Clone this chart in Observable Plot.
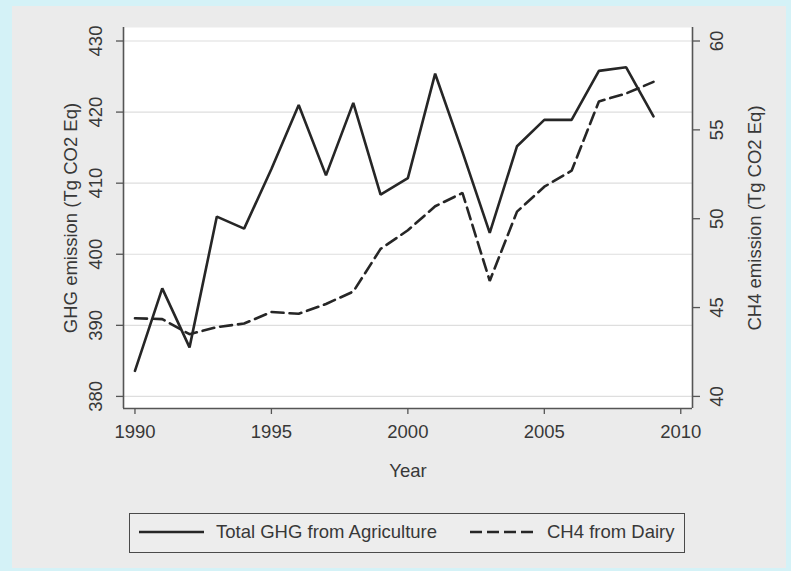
<!DOCTYPE html>
<html>
<head>
<meta charset="utf-8">
<script src="https://cdn.jsdelivr.net/npm/d3@7"></script>
<script src="https://cdn.jsdelivr.net/npm/@observablehq/plot@0.6"></script>
<style>
  html, body { margin: 0; padding: 0; background: #d4f2f7; }
  #wrap { position: relative; width: 791px; height: 571px; background: #d4f2f7; overflow: hidden;
          font-family: "Liberation Sans", Arial, sans-serif; }
  #panel { position: absolute; left: 12px; top: 6px; width: 774px; height: 562px; background: #ebebeb; }
  #chart { position: absolute; left: 0; top: 0; }
  #legend { position: absolute; left: 129px; top: 513px; width: 556px; height: 40px; box-sizing: border-box;
            border: 1.5px solid #4a4a4a; background: #ededed; }
  #legend svg { position: absolute; left: 0; top: 0; }
</style>
</head>
<body>
<div id="wrap">
  <div id="panel"></div>
  <div id="chart"></div>
  <div id="legend"></div>
</div>
<script>
// ---- data ----
const years = [1990,1991,1992,1993,1994,1995,1996,1997,1998,1999,2000,2001,2002,2003,2004,2005,2006,2007,2008,2009];
const ghgTotal = [383.6,395.2,386.9,405.3,403.6,412.0,421.0,411.1,421.3,408.4,410.7,425.4,414.4,403.0,415.2,418.9,418.9,425.8,426.3,419.4];
const ch4Dairy = [44.4,44.35,43.5,43.9,44.1,44.75,44.65,45.2,45.9,48.3,49.35,50.7,51.45,46.5,50.4,51.8,52.7,56.6,57.05,57.7];
const leftTicks = [380,390,400,410,420,430];
const rightTicks = [40,45,50,55,60];
const xTicks = [1990,1995,2000,2005,2010];
const seriesNames = ["Total GHG from Agriculture","CH4 from Dairy"];
const leftTitle = "GHG emission (Tg CO2 Eq)";
const rightTitle = "CH4 emission (Tg CO2 Eq)";
const xTitle = "Year";

// secondary axis: 40..60 maps onto 380..430
const toLeft = c => 380 + (c - 40) * 2.5;
const rows = years.map((yr, i) => ({year: yr, ghg: ghgTotal[i], ch4: ch4Dairy[i]}));

const xDomain = [1989.58, 2010.43];
const yDomain = [378.3, 431.9];
const ink = "#262626";
const txt = "#383838";
const axisCol = "#555555";
const fs = 18.5;

const chart = Plot.plot({
  width: 791,
  height: 500,
  marginLeft: 123,
  marginRight: 99,
  marginTop: 27,
  marginBottom: 92,
  x: {domain: xDomain},
  y: {domain: yDomain},
  style: {background: "transparent", fontFamily: '"Liberation Sans", Arial, sans-serif', fontSize: fs + "px", color: txt},
  marks: [
    Plot.frame({fill: "white", stroke: "none"}),
    Plot.gridY(leftTicks, {stroke: "#dedede", strokeOpacity: 1, strokeWidth: 1.2}),
    // axis lines
    Plot.ruleX([xDomain[0]], {stroke: axisCol, strokeWidth: 1.6}),
    Plot.ruleX([xDomain[1]], {stroke: axisCol, strokeWidth: 1.6}),
    Plot.ruleY([yDomain[0]], {stroke: axisCol, strokeWidth: 1.6}),
    // tick marks
    Plot.axisY(leftTicks, {anchor: "left", tickSize: 7, tickFormat: () => "", label: null, stroke: axisCol, strokeWidth: 1.3}),
    Plot.axisY(rightTicks.map(toLeft), {anchor: "right", tickSize: 7, tickFormat: () => "", label: null, stroke: axisCol, strokeWidth: 1.3}),
    Plot.axisX(xTicks, {anchor: "bottom", tickSize: 6, tickFormat: () => "", label: null, stroke: axisCol, strokeWidth: 1.3}),
    // tick labels
    Plot.text(leftTicks, {y: d => d, frameAnchor: "left", text: d => String(d), rotate: -90, dx: -27,
      textAnchor: "middle", lineAnchor: "middle", fill: txt, fontSize: fs}),
    Plot.text(rightTicks, {y: d => toLeft(d), frameAnchor: "right", text: d => String(d), rotate: -90, dx: 24.5,
      textAnchor: "middle", lineAnchor: "middle", fill: txt, fontSize: fs}),
    Plot.text(xTicks, {x: d => d, frameAnchor: "bottom", text: d => String(d), dy: 24,
      textAnchor: "middle", lineAnchor: "middle", fill: txt, fontSize: fs}),
    // axis titles
    Plot.text([leftTitle], {frameAnchor: "left", text: d => d, rotate: -90, dx: -52, textAnchor: "middle", lineAnchor: "middle", fill: txt, fontSize: fs}),
    Plot.text([rightTitle], {frameAnchor: "right", text: d => d, rotate: -90, dx: 63, textAnchor: "middle", lineAnchor: "middle", fill: txt, fontSize: fs}),
    Plot.text([xTitle], {frameAnchor: "bottom", text: d => d, dy: 63, textAnchor: "middle", lineAnchor: "middle", fill: txt, fontSize: fs}),
    // series
    Plot.line(rows, {x: "year", y: d => toLeft(d.ch4), stroke: ink, strokeWidth: 2.6, strokeDasharray: "12,6", strokeLinejoin: "miter"}),
    Plot.line(rows, {x: "year", y: "ghg", stroke: ink, strokeWidth: 2.6, strokeLinejoin: "miter"})
  ]
});
document.getElementById("chart").appendChild(chart);

// legend
const lg = d3.select("#legend").append("svg").attr("width", 553).attr("height", 37)
  .style("font-family", '"Liberation Sans", Arial, sans-serif').style("font-size", fs + "px");
const entries = [
  {name: seriesNames[0], x1: 9, x2: 74, tx: 86, dash: null},
  {name: seriesNames[1], x1: 340, x2: 403, tx: 417, dash: "12,5"}
];
entries.forEach(e => {
  lg.append("line").attr("x1", e.x1).attr("x2", e.x2).attr("y1", 18).attr("y2", 18)
    .attr("stroke", ink).attr("stroke-width", 2.6).attr("stroke-dasharray", e.dash);
  lg.append("text").attr("x", e.tx).attr("y", 18).attr("dy", "0.35em").attr("fill", txt).text(e.name);
});
</script>
</body>
</html>
